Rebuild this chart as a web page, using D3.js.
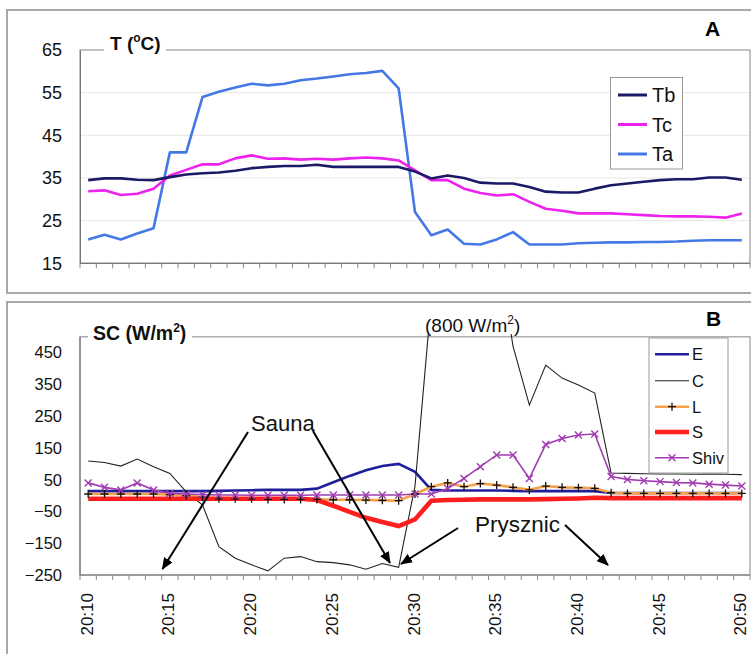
<!DOCTYPE html>
<html><head><meta charset="utf-8">
<script src="https://cdn.jsdelivr.net/npm/d3@7/dist/d3.min.js"></script>
<style>body{margin:0;background:#fff}svg{display:block;font-family:Arial,"Liberation Sans",Helvetica,sans-serif}</style>
</head><body><svg id="c" width="751" height="654"></svg>
<script>
const times = ["20:10","20:11","20:12","20:13","20:14","20:15","20:16","20:17","20:18","20:19",
"20:20","20:21","20:22","20:23","20:24","20:25","20:26","20:27","20:28","20:29",
"20:30","20:31","20:32","20:33","20:34","20:35","20:36","20:37","20:38","20:39",
"20:40","20:41","20:42","20:43","20:44","20:45","20:46","20:47","20:48","20:49","20:50"];
const Tb = [34.5,34.9,34.9,34.6,34.5,35.2,35.8,36.1,36.3,36.7,37.3,37.6,37.8,37.8,38.1,37.6,37.6,37.6,37.6,37.6,
36.5,34.9,35.6,35.0,33.9,33.7,33.7,32.9,31.8,31.6,31.6,32.5,33.3,33.7,34.1,34.5,34.7,34.7,35.1,35.1,34.6];
const Tc = [31.9,32.1,31.0,31.3,32.5,35.6,36.9,38.2,38.2,39.6,40.3,39.5,39.6,39.3,39.5,39.3,39.6,39.8,39.6,39.1,
36.8,34.5,34.5,32.5,31.5,30.9,31.2,29.4,27.8,27.3,26.7,26.7,26.7,26.5,26.3,26.1,26.0,26.0,25.9,25.7,26.7];
const Ta = [20.6,21.7,20.6,22.0,23.2,41.0,41.0,54.0,55.2,56.2,57.1,56.7,57.1,57.9,58.3,58.8,59.3,59.6,60.1,56.0,
27.0,21.6,22.9,19.6,19.4,20.6,22.3,19.4,19.4,19.4,19.7,19.8,19.9,19.9,20.0,20.0,20.1,20.3,20.4,20.4,20.4];
const E = [14,14,14,14,14,14,14,14,15,16,17,18,18,18,22,42,62,80,93,100,
75,18,16,16,16,16,15,14,14,14,14,14,8,8,8,8,8,8,8,8,8];
const C = [109,104,93,115,91,70,12,-30,-161,-197,-218,-237,-197,-192,-208,-211,-218,-232,-214,-226,
30,620,800,800,800,800,470,285,411,370,348,323,71,70,69,68,68,67,68,67,66];
const L = [5,5,5,5,5,3,0,-5,-10,-10,-10,-12,-12,-12,-12,-13,-13,-14,-15,-16,
5,28,40,28,38,33,26,18,30,26,25,23,9,7,7,7,7,7,7,7,7];
const S = [-10,-10,-10,-10,-10,-10,-10,-10,-10,-10,-10,-10,-10,-10,-14,-32,-51,-70,-83,-96,
-75,-16,-14,-13,-12,-12,-12,-12,-11,-10,-9,-7,-8,-8,-8,-8,-8,-8,-8,-8,-8];
const Shiv = [40,26,18,40,18,7,5,3,2,2,1,1,1,1,2,2,2,2,2,2,
5,5,22,54,91,128,128,54,161,180,191,194,60,51,47,44,41,40,36,33,30];
const tTicks = [15,25,35,45,55,65];
const scTicks = [-250,-150,-50,50,150,250,350,450];
const xTickLabels = ["20:10","20:15","20:20","20:25","20:30","20:35","20:40","20:45","20:50"];

const svg = d3.select("#c");
// panel frames
svg.append("rect").attr("x",7).attr("y",10).attr("width",780).attr("height",283)
  .attr("fill","#fff").attr("stroke","#a9a9a9").attr("stroke-width",2);
svg.append("rect").attr("x",7).attr("y",302).attr("width",780).attr("height",420)
  .attr("fill","#fff").attr("stroke","#a9a9a9").attr("stroke-width",2);

const defs = svg.append("defs");
defs.append("clipPath").attr("id","clipA").append("rect").attr("x",80).attr("y",48).attr("width",671).attr("height",217);
defs.append("clipPath").attr("id","clipB").append("rect").attr("x",8).attr("y",303).attr("width",743).attr("height",350);
defs.append("marker").attr("id","arr").attr("viewBox","0 0 12 10").attr("markerUnits","userSpaceOnUse")
  .attr("markerWidth",12).attr("markerHeight",10).attr("refX",11).attr("refY",5).attr("orient","auto")
  .append("path").attr("d","M0,0L12,5L0,10Z").attr("fill","#000");

const x = d3.scaleBand().domain(times).range([80,750]);
const cx = t => x(t) + x.bandwidth()/2;

// ---------- Panel A ----------
const yA = d3.scaleLinear().domain([15,65]).range([263.3,50]);
const gA = svg.append("g");
gA.selectAll("line.grid").data(tTicks.slice(1,5)).join("line")
  .attr("x1",80).attr("x2",750).attr("y1",d=>yA(d)).attr("y2",d=>yA(d))
  .attr("stroke","#e6e6e6").attr("stroke-width",1);
gA.append("rect").attr("x",80).attr("y",yA(65)).attr("width",670).attr("height",yA(15)-yA(65))
  .attr("fill","none").attr("stroke","#9a9a9a").attr("stroke-width",1.2);
const axA = gA.append("g").attr("transform","translate(80,0)")
  .call(d3.axisLeft(yA).tickValues(tTicks).tickSize(0).tickPadding(18));
axA.select(".domain").attr("stroke","#777");
axA.selectAll("text").attr("font-size",18).attr("fill","#111").attr("font-family","Arial, 'Liberation Sans', sans-serif");
gA.append("line").attr("x1",80).attr("x2",750).attr("y1",yA(15)).attr("y2",yA(15)).attr("stroke","#777").attr("stroke-width",1.2);
gA.selectAll("line.tk").data(times.concat(["end"])).join("line")
  .attr("x1",d=>d==="end"?750:x(d)).attr("x2",d=>d==="end"?750:x(d))
  .attr("y1",yA(15)).attr("y2",yA(15)+5).attr("stroke","#888");

const lineA = d3.line().x((d,i)=>cx(times[i])).y(d=>yA(d));
const seriesA = [{n:"Tb",v:Tb,c:"#1b1a66"},{n:"Tc",v:Tc,c:"#ee22ee"},{n:"Ta",v:Ta,c:"#4478e4"}];
const linesA = gA.append("g").attr("clip-path","url(#clipA)");
seriesA.slice().reverse().forEach(s=>{
  linesA.append("path").attr("d",lineA(s.v)).attr("fill","none").attr("stroke",s.c).attr("stroke-width",2.6).attr("stroke-linejoin","round");
});
// T label
gA.append("rect").attr("x",104).attr("y",34).attr("width",62).attr("height",22).attr("fill","#fff");
const tl = gA.append("text").attr("x",110).attr("y",50).attr("font-size",19).attr("font-weight","bold").attr("fill","#111");
tl.append("tspan").text("T (");
tl.append("tspan").text("o").attr("font-size",12).attr("dy",-8);
tl.append("tspan").text("C)").attr("dy",8);
gA.append("text").attr("x",705).attr("y",36).attr("font-size",21).attr("font-weight","bold").text("A");
// legend A
const legA = gA.append("g");
legA.append("rect").attr("x",610.5).attr("y",77.5).attr("width",72).attr("height",91.5).attr("fill","#fff").attr("stroke","#9a9a9a");
const legYA = [95,124.5,154];
seriesA.forEach((s,i)=>{
  legA.append("line").attr("x1",618).attr("x2",647).attr("y1",legYA[i]).attr("y2",legYA[i]).attr("stroke",s.c).attr("stroke-width",3);
  legA.append("text").attr("x",652).attr("y",legYA[i]).attr("dy","0.36em").attr("font-size",20).attr("fill","#111").text(s.n);
});

// ---------- Panel B ----------
const yB = d3.scaleLinear().domain([-250,500]).range([575,336.8]);
const gB = svg.append("g");
gB.append("rect").attr("x",80).attr("y",yB(500)).attr("width",670).attr("height",yB(-250)-yB(500))
  .attr("fill","none").attr("stroke","#9a9a9a").attr("stroke-width",1.2);
const axB = gB.append("g").attr("transform","translate(80,0)")
  .call(d3.axisLeft(yB).tickValues(scTicks).tickSize(0).tickPadding(18));
axB.select(".domain").remove();
gB.append("line").attr("x1",80).attr("x2",80).attr("y1",yB(500)).attr("y2",yB(-250)).attr("stroke","#777").attr("stroke-width",1.2);
axB.selectAll("text").attr("font-size",16.5).attr("fill","#111").attr("font-family","Arial, 'Liberation Sans', sans-serif");
gB.append("line").attr("x1",80).attr("x2",750).attr("y1",yB(-250)).attr("y2",yB(-250)).attr("stroke","#777").attr("stroke-width",1.2);
gB.selectAll("line.tk").data(times.concat(["end"])).join("line")
  .attr("x1",d=>d==="end"?750:x(d)).attr("x2",d=>d==="end"?750:x(d))
  .attr("y1",yB(-250)).attr("y2",yB(-250)+5).attr("stroke","#888");
const axBx = gB.append("g").attr("transform",`translate(0,${yB(-250)})`)
  .call(d3.axisBottom(x).tickValues(xTickLabels).tickSize(0).tickPadding(0));
axBx.select(".domain").remove();
axBx.selectAll("text").attr("font-size",17).attr("fill","#111")
  .attr("font-family","Arial, 'Liberation Sans', sans-serif")
  .attr("text-anchor","end").attr("transform","translate(0,18) rotate(-90)")
  .attr("x",0).attr("y",0).attr("dy","0.27em");

const lineB = d3.line().x((d,i)=>cx(times[i])).y(d=>yB(d));
const linesB = gB.append("g").attr("clip-path","url(#clipB)");
linesB.append("path").attr("d",lineB(E)).attr("fill","none").attr("stroke","#1f1f9a").attr("stroke-width",2.6);
linesB.append("path").attr("d",lineB(C)).attr("fill","none").attr("stroke","#222").attr("stroke-width",1.1);
linesB.append("path").attr("d",lineB(L)).attr("fill","none").attr("stroke","#f4a24a").attr("stroke-width",2.6);
linesB.append("path").attr("d",lineB(S)).attr("fill","none").attr("stroke","#ff1e1e").attr("stroke-width",4.6);
linesB.append("path").attr("d",lineB(Shiv)).attr("fill","none").attr("stroke","#a23cb2").attr("stroke-width",1.6);
const plus = (g,x0,y0,c)=>{ g.append("path").attr("d",`M${x0-4},${y0}H${x0+4}M${x0},${y0-4}V${y0+4}`).attr("stroke",c).attr("stroke-width",1.3).attr("fill","none"); };
const cross = (g,x0,y0,c)=>{ g.append("path").attr("d",`M${x0-3.5},${y0-3.5}L${x0+3.5},${y0+3.5}M${x0-3.5},${y0+3.5}L${x0+3.5},${y0-3.5}`).attr("stroke",c).attr("stroke-width",1.4).attr("fill","none"); };
L.forEach((v,i)=>plus(linesB,cx(times[i]),yB(v),"#111"));
Shiv.forEach((v,i)=>cross(linesB,cx(times[i]),yB(v),"#a23cb2"));

// labels
gB.append("rect").attr("x",88).attr("y",321).attr("width",104).attr("height",21).attr("fill","#fff");
const sl = gB.append("text").attr("x",93).attr("y",340).attr("font-size",19.5).attr("font-weight","bold").attr("fill","#111");
sl.append("tspan").text("SC (W/m");
sl.append("tspan").text("2").attr("font-size",12).attr("dy",-8);
sl.append("tspan").text(")").attr("dy",8);
gB.append("text").attr("x",706).attr("y",326).attr("font-size",21).attr("font-weight","bold").text("B");
gB.append("rect").attr("x",423).attr("y",303).attr("width",102).attr("height",31).attr("fill","#fff");
const ol = gB.append("text").attr("x",425).attr("y",332).attr("font-size",19).attr("fill","#111");
ol.append("tspan").text("(800 W/m");
ol.append("tspan").text("2").attr("font-size",12).attr("dy",-8);
ol.append("tspan").text(")").attr("dy",8);

// legend B
const legB = gB.append("g");
legB.append("rect").attr("x",649).attr("y",338).attr("width",79).attr("height",135).attr("fill","#fff").attr("stroke","#9a9a9a");
const legYB = [354.3,380.7,406.7,432,457.7];
const seriesB = [{n:"E",c:"#1f1f9a",w:2.6},{n:"C",c:"#222",w:1.1},{n:"L",c:"#f4a24a",w:2.6},{n:"S",c:"#ff1e1e",w:4.6},{n:"Shiv",c:"#a23cb2",w:1.6}];
seriesB.forEach((s,i)=>{
  legB.append("line").attr("x1",655).attr("x2",689).attr("y1",legYB[i]).attr("y2",legYB[i]).attr("stroke",s.c).attr("stroke-width",s.w);
  legB.append("text").attr("x",692).attr("y",legYB[i]).attr("dy","0.36em").attr("font-size",16.5).attr("fill","#111").text(s.n);
});
plus(legB,672,legYB[2],"#111");
cross(legB,672,legYB[4],"#a23cb2");

// annotations
const ann = gB.append("g");
ann.append("text").attr("x",251).attr("y",431).attr("font-size",22).attr("fill","#111").text("Sauna");
ann.append("text").attr("x",475).attr("y",532).attr("font-size",22.5).attr("fill","#111").text("Prysznic");
[[248,432,162.5,569],[313,431,390,563],[458,528,401,564],[565,525,608,565]].forEach(a=>{
  ann.append("line").attr("x1",a[0]).attr("y1",a[1]).attr("x2",a[2]).attr("y2",a[3])
    .attr("stroke","#000").attr("stroke-width",2).attr("marker-end","url(#arr)");
});
</script></body></html>
